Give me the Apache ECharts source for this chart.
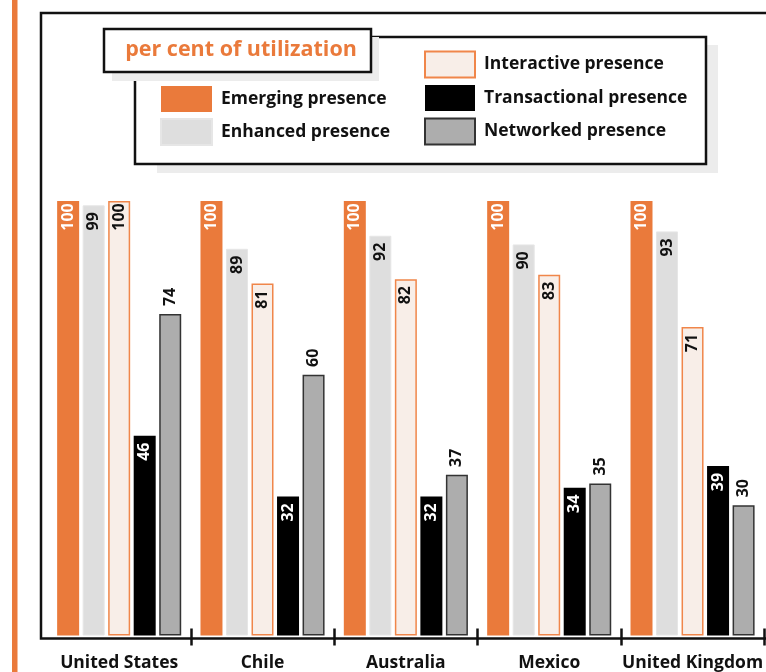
<!DOCTYPE html>
<html>
<head>
<meta charset="utf-8">
<script src="https://cdn.jsdelivr.net/npm/echarts@6/dist/echarts.min.js"></script>
<style>
  html, body { margin: 0; padding: 0; background: #ffffff; }
  #chart { width: 766px; height: 672px; }
</style>
</head>
<body>
<div id="chart"></div>
<script>
// Share of government websites at each stage of web presence, by country
const countries = ['United States', 'Chile', 'Australia', 'Mexico', 'United Kingdom'];
const emerging      = [100, 100, 100, 100, 100];
const enhanced      = [99, 89, 92, 90, 93];
const interactive   = [100, 81, 82, 83, 71];
const transactional = [46, 32, 32, 34, 39];
const networked     = [74, 60, 37, 35, 30];

const FONT = '"Open Sans", "DejaVu Sans", sans-serif';
const ORANGE = '#EA7A3B';

const insideLabel = (color) => ({
  show: true,
  rotate: 90,
  position: 'insideTop',
  distance: 16,
  align: 'center',
  verticalAlign: 'middle',
  color: color,
  fontFamily: FONT,
  fontWeight: 'bold',
  fontSize: 16
});

const legendText = { fontFamily: FONT, fontWeight: 'bold', fontSize: 17.5, color: '#111', padding: [3, 0, 0, 4] };

const chart = echarts.init(document.getElementById('chart'), null, { renderer: 'canvas' });

chart.setOption({
  backgroundColor: '#ffffff',
  animation: false,
  grid: { left: 47.5, right: 766 - 47.5 - 717.5, top: 201, bottom: 35, containLabel: false },
  legend: [
    {
      data: ['Emerging presence', 'Enhanced presence'],
      orient: 'vertical',
      left: 160, top: 86, padding: 0,
      itemWidth: 51, itemHeight: 26, itemGap: 6,
      icon: 'rect',
      selectedMode: false,
      textStyle: legendText
    },
    {
      data: ['Interactive presence', 'Transactional presence', 'Networked presence'],
      orient: 'vertical',
      left: 424, top: 50.5, padding: 0,
      itemWidth: 50, itemHeight: 26, itemGap: 6.5,
      icon: 'rect',
      selectedMode: false,
      textStyle: legendText
    }
  ],
  xAxis: [
    {
      type: 'category',
      data: countries,
      offset: 1.5,
      axisLine: { show: false },
      axisTick: {
        show: true, length: 10, inside: false,
        lineStyle: { color: '#111', width: 2.5 },
        interval: (i) => i > 0
      },
      axisLabel: {
        interval: 0,
        margin: 17,
        fontFamily: FONT, fontWeight: 'bold', fontSize: 17.5, color: '#111'
      }
    },
    {
      type: 'category',
      data: countries,
      position: 'bottom',
      offset: 1.5,
      axisLine: { show: false },
      axisTick: {
        show: true, length: 8.5, inside: true,
        lineStyle: { color: '#111', width: 2.5 },
        interval: (i) => i > 0
      },
      axisLabel: { show: false }
    }
  ],
  yAxis: {
    type: 'value', min: 0, max: 100,
    show: false,
    splitLine: { show: false }
  },
  series: [
    {
      name: 'Emerging presence', type: 'bar', data: emerging,
      barWidth: 22, barGap: '16%',
      itemStyle: { color: ORANGE },
      label: insideLabel('#ffffff')
    },
    {
      name: 'Enhanced presence', type: 'bar', data: enhanced,
      barWidth: 22, barGap: '16%',
      itemStyle: { color: '#DEDEDE', borderColor: '#E6E6E6', borderWidth: 1 },
      label: insideLabel('#111111')
    },
    {
      name: 'Interactive presence', type: 'bar', data: interactive,
      barWidth: 22, barGap: '16%',
      itemStyle: { color: '#F8EEE8', borderColor: '#F0864A', borderWidth: 1.5 },
      label: insideLabel('#111111')
    },
    {
      name: 'Transactional presence', type: 'bar', data: transactional,
      barWidth: 22, barGap: '16%',
      itemStyle: { color: '#000000' },
      label: insideLabel('#ffffff')
    },
    {
      name: 'Networked presence', type: 'bar', data: networked,
      barWidth: 22, barGap: '16%',
      itemStyle: { color: '#ADADAD', borderColor: '#333333', borderWidth: 1.5 },
      label: {
        show: true, rotate: 90, position: 'top', distance: 17,
        align: 'center', verticalAlign: 'middle',
        color: '#111111', fontFamily: FONT, fontWeight: 'bold', fontSize: 16
      }
    }
  ],
  graphic: [
    // orange rule down the left margin
    { type: 'rect', z: 0, shape: { x: 12, y: 0, width: 5.5, height: 672 }, style: { fill: ORANGE } },
    // chart frame: left, top, and the baseline
    {
      type: 'polyline', z: 0,
      shape: { points: [[775, 13], [41, 13], [41, 638.5], [775, 638.5]] },
      style: { stroke: '#111', lineWidth: 2.5, fill: null }
    },
    // legend panel with its drop shadow
    { type: 'rect', z: -1, shape: { x: 157, y: 45, width: 561, height: 128 }, style: { fill: '#ECECEC' } },
    { type: 'rect', z: -1, shape: { x: 135, y: 37, width: 571, height: 127 }, style: { fill: '#ffffff', stroke: '#111', lineWidth: 2.5 } },
    // heading box with its drop shadow
    { type: 'rect', z: -1, shape: { x: 112, y: 37, width: 267, height: 44 }, style: { fill: '#ECECEC' } },
    { type: 'rect', z: -1, shape: { x: 104, y: 29, width: 267, height: 43 }, style: { fill: '#ffffff', stroke: '#111', lineWidth: 2.5 } },
    {
      type: 'text', z: 10,
      style: {
        x: 241, y: 50, text: 'per cent of utilization',
        fill: ORANGE, font: 'bold 21.5px ' + FONT,
        textAlign: 'center', textVerticalAlign: 'middle'
      }
    }
  ]
});
</script>
</body>
</html>
